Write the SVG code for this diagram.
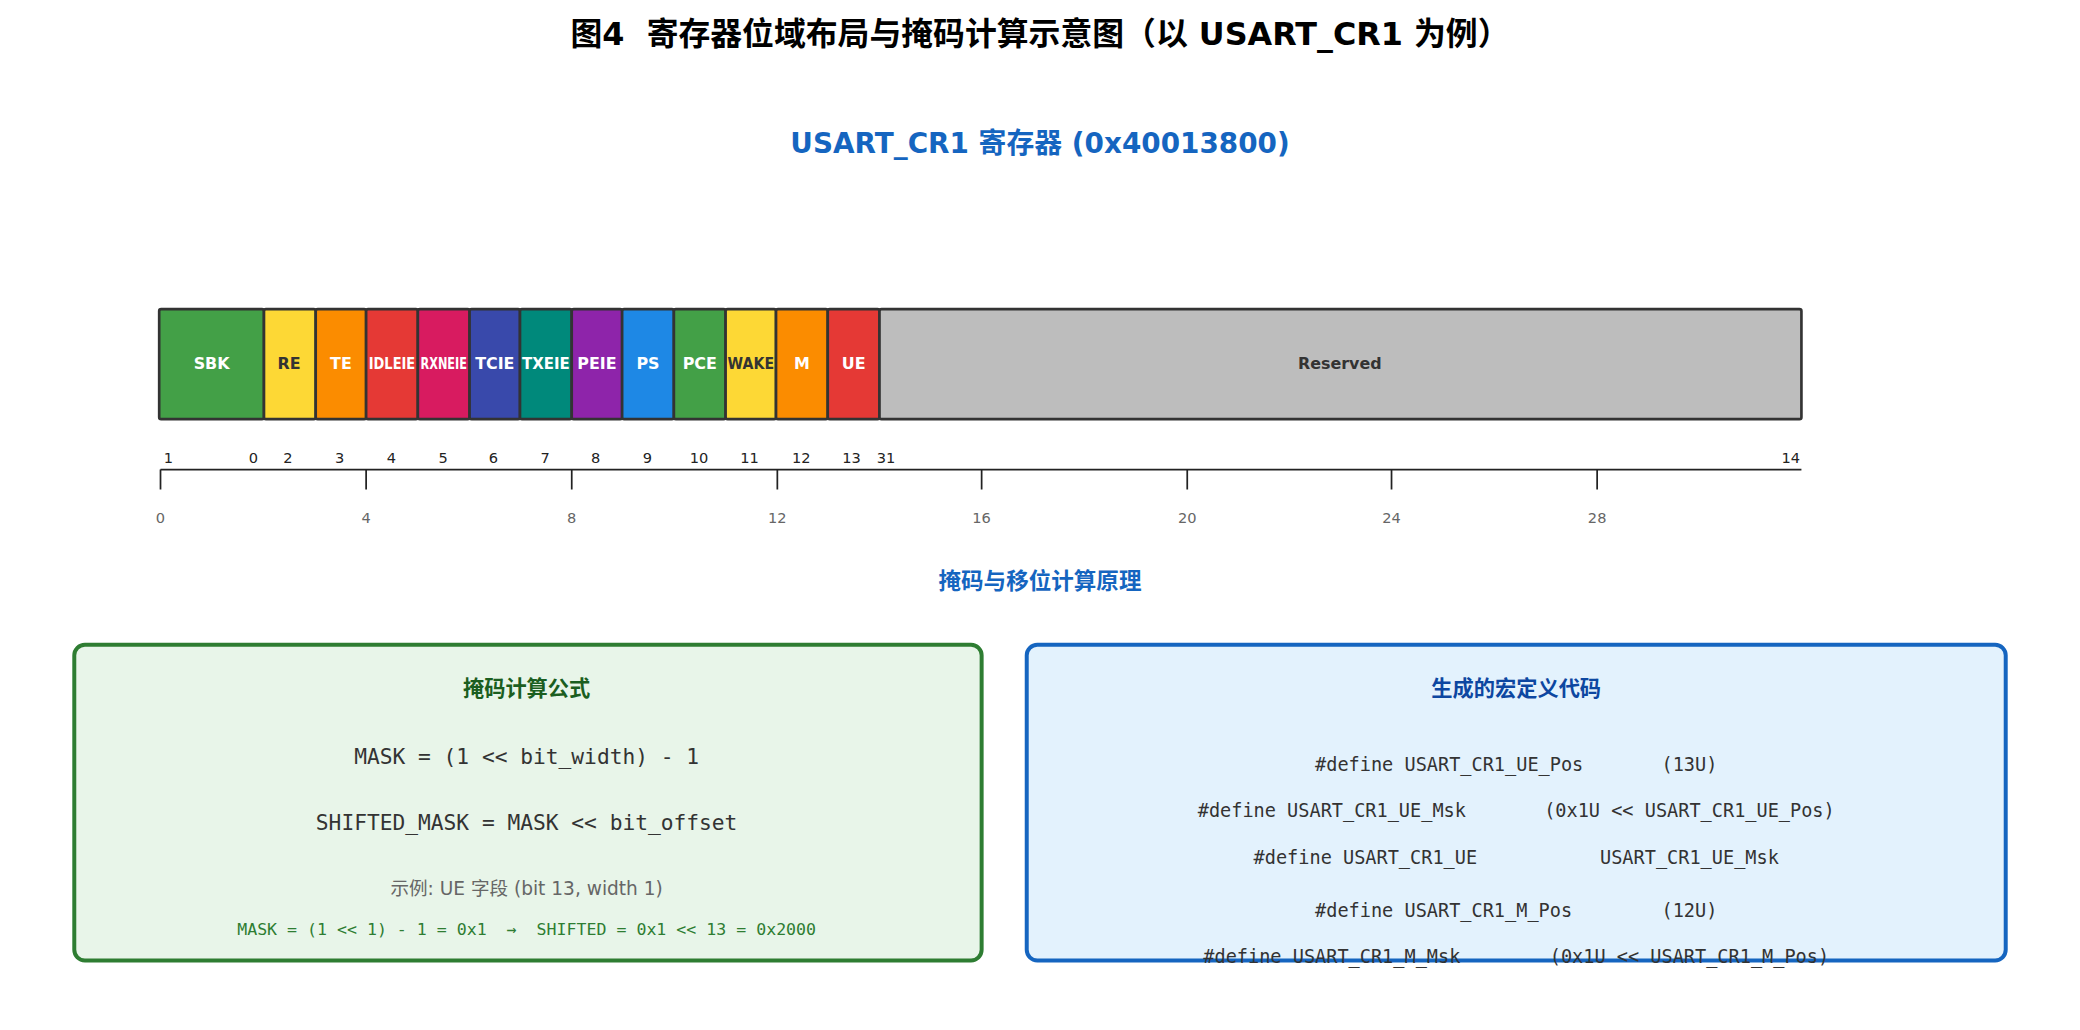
<svg xmlns="http://www.w3.org/2000/svg" width="2080" height="1030" viewBox="0 0 2080 1030">
<style>
.t{font-family:"DejaVu Sans","Noto Sans CJK SC",sans-serif;text-anchor:middle;white-space:pre}
.m{font-family:"DejaVu Sans Mono","Noto Sans CJK SC",monospace;text-anchor:middle;white-space:pre}
.f{stroke:#333;stroke-width:2}
.fl{font-family:"DejaVu Sans",sans-serif;font-size:12px;font-weight:bold;text-anchor:middle;fill:#fff}
.dk{fill:#333}
.bn{font-family:"DejaVu Sans",sans-serif;font-size:11px;text-anchor:middle;fill:#222}
.tk{font-family:"DejaVu Sans",sans-serif;font-size:11px;text-anchor:middle;fill:#666}
</style>
<rect width="2080" height="1030" fill="#fff"/>
<g transform="scale(1.32653)">
<text class="t" x="784" y="34" font-size="24" font-weight="bold">图4  寄存器位域布局与掩码计算示意图（以 USART_CR1 为例）</text>
<text class="t" x="784" y="115" font-size="21" font-weight="bold" fill="#1565c0">USART_CR1 寄存器 (0x40013800)</text>
<g id="register">
<g id="f-SBK"><rect class="f" x="120" y="233" width="79" height="83" rx="1.5" fill="#43a047"/><text class="fl" x="159.5" y="278" font-size="13">SBK</text></g>
<g id="f-RE"><rect class="f" x="199" y="233" width="39" height="83" rx="1.5" fill="#fdd835"/><text class="fl dk" x="218" y="278">RE</text></g>
<g id="f-TE"><rect class="f" x="238" y="233" width="38" height="83" rx="1.5" fill="#fb8c00"/><text class="fl" x="257" y="278">TE</text></g>
<g id="f-IDLEIE"><rect class="f" x="276" y="233" width="39" height="83" rx="1.5" fill="#e53935"/><text class="fl" x="295.5" y="278" textLength="35" lengthAdjust="spacingAndGlyphs">IDLEIE</text></g>
<g id="f-RXNEIE"><rect class="f" x="315" y="233" width="39" height="83" rx="1.5" fill="#d81b60"/><text class="fl" x="334.5" y="278" textLength="35" lengthAdjust="spacingAndGlyphs">RXNEIE</text></g>
<g id="f-TCIE"><rect class="f" x="354" y="233" width="38" height="83" rx="1.5" fill="#3949ab"/><text class="fl" x="373" y="278">TCIE</text></g>
<g id="f-TXEIE"><rect class="f" x="392" y="233" width="39" height="83" rx="1.5" fill="#00897b"/><text class="fl" x="411.5" y="278" textLength="36" lengthAdjust="spacingAndGlyphs">TXEIE</text></g>
<g id="f-PEIE"><rect class="f" x="431" y="233" width="38" height="83" rx="1.5" fill="#8e24aa"/><text class="fl" x="450" y="278">PEIE</text></g>
<g id="f-PS"><rect class="f" x="469" y="233" width="39" height="83" rx="1.5" fill="#1e88e5"/><text class="fl" x="488.5" y="278">PS</text></g>
<g id="f-PCE"><rect class="f" x="508" y="233" width="39" height="83" rx="1.5" fill="#43a047"/><text class="fl" x="527.5" y="278">PCE</text></g>
<g id="f-WAKE"><rect class="f" x="547" y="233" width="38" height="83" rx="1.5" fill="#fdd835"/><text class="fl dk" x="566" y="278" textLength="35" lengthAdjust="spacingAndGlyphs">WAKE</text></g>
<g id="f-M"><rect class="f" x="585" y="233" width="39" height="83" rx="1.5" fill="#fb8c00"/><text class="fl" x="604.5" y="278">M</text></g>
<g id="f-UE"><rect class="f" x="624" y="233" width="39" height="83" rx="1.5" fill="#e53935"/><text class="fl" x="643.5" y="278">UE</text></g>
<g id="f-Reserved"><rect class="f" x="663" y="233" width="695" height="83" rx="1.5" fill="#bdbdbd"/><text class="fl dk" x="1010" y="278" font-size="13">Reserved</text></g>
</g>
<g id="bitnums">
<text class="bn" x="127" y="349">1</text><text class="bn" x="191" y="349">0</text><text class="bn" x="217" y="349">2</text><text class="bn" x="256" y="349">3</text><text class="bn" x="295" y="349">4</text><text class="bn" x="334" y="349">5</text><text class="bn" x="372" y="349">6</text><text class="bn" x="411" y="349">7</text><text class="bn" x="449" y="349">8</text><text class="bn" x="488" y="349">9</text><text class="bn" x="527" y="349">10</text><text class="bn" x="565" y="349">11</text><text class="bn" x="604" y="349">12</text><text class="bn" x="642" y="349">13</text><text class="bn" x="668" y="349">31</text><text class="bn" x="1350" y="349">14</text>
</g>
<g id="axis" stroke="#222" stroke-width="1.3" fill="none">
<path d="M121 354H1358M121 354V369M276 354V369M431 354V369M586 354V369M740 354V369M895 354V369M1049 354V369M1204 354V369"/>
</g>
<g id="ticks">
<text class="tk" x="121" y="394">0</text><text class="tk" x="276" y="394">4</text><text class="tk" x="431" y="394">8</text><text class="tk" x="586" y="394">12</text><text class="tk" x="740" y="394">16</text><text class="tk" x="895" y="394">20</text><text class="tk" x="1049" y="394">24</text><text class="tk" x="1204" y="394">28</text>
</g>
<text class="t" x="784" y="444" font-size="17" font-weight="bold" fill="#1565c0">掩码与移位计算原理</text>
<g id="formula-box">
<rect x="56" y="486" width="684" height="238" rx="8" fill="#e8f5e9" stroke="#2e7d32" stroke-width="3"/>
<text class="t" x="397" y="525" font-size="16" font-weight="bold" fill="#1b5e20">掩码计算公式</text>
<text class="m" x="397" y="576" font-size="16" fill="#333">MASK = (1 &lt;&lt; bit_width) - 1</text>
<text class="m" x="397" y="626" font-size="16" fill="#333">SHIFTED_MASK = MASK &lt;&lt; bit_offset</text>
<text class="t" x="397" y="675" font-size="14" fill="#666">示例: UE 字段 (bit 13, width 1)</text>
<text class="m" x="397" y="705" font-size="12.5" fill="#2e7d32">MASK = (1 &lt;&lt; 1) - 1 = 0x1  →  SHIFTED = 0x1 &lt;&lt; 13 = 0x2000</text>
</g>
<g id="code-box">
<rect x="774" y="486" width="738" height="238" rx="8" fill="#e3f2fd" stroke="#1565c0" stroke-width="3"/>
<text class="t" x="1143" y="525" font-size="16" font-weight="bold" fill="#0d47a1">生成的宏定义代码</text>
<text class="m" x="1143" y="581" font-size="14" fill="#333">#define USART_CR1_UE_Pos       (13U)</text>
<text class="m" x="1143" y="616" font-size="14" fill="#333">#define USART_CR1_UE_Msk       (0x1U &lt;&lt; USART_CR1_UE_Pos)</text>
<text class="m" x="1143" y="651" font-size="14" fill="#333">#define USART_CR1_UE           USART_CR1_UE_Msk</text>
<text class="m" x="1143" y="691" font-size="14" fill="#333">#define USART_CR1_M_Pos        (12U)</text>
<text class="m" x="1143" y="726" font-size="14" fill="#333">#define USART_CR1_M_Msk        (0x1U &lt;&lt; USART_CR1_M_Pos)</text>
</g>
</g>
</svg>
